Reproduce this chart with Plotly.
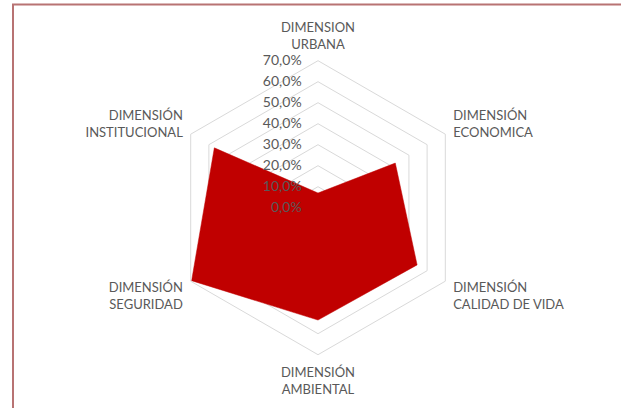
import plotly.graph_objects as go

categories = ["DIMENSION<br>URBANA", "DIMENSIÓN<br>ECONOMICA", "DIMENSIÓN<br>CALIDAD DE VIDA",
              "DIMENSIÓN<br>AMBIENTAL", "DIMENSIÓN<br>SEGURIDAD", "DIMENSIÓN<br>INSTITUCIONAL"]
values = [7.0, 42.5, 54.5, 53.5, 69.5, 57.0]
tick_vals = [0, 10, 20, 30, 40, 50, 60, 70]
tick_text = ["0,0%", "10,0%", "20,0%", "30,0%", "40,0%", "50,0%", "60,0%", "70,0%"]

W, H = 621, 408
cx, cy, R = 318, 207.7, 147

fig = go.Figure()
fig.add_trace(go.Scatterpolar(
    r=values + values[:1],
    theta=categories + categories[:1],
    mode="lines",
    fill="toself",
    fillcolor="#C00000",
    line=dict(color="#C00000", width=0.5),
    hoverinfo="skip",
    showlegend=False,
))

fig.update_layout(
    width=W, height=H,
    margin=dict(l=0, r=0, t=0, b=0),
    paper_bgcolor="white",
    font=dict(family="Lato", size=14, color="#595959"),
    polar=dict(
        domain=dict(x=[(cx - R) / W, (cx + R) / W], y=[1 - (cy + R) / H, 1 - (cy - R) / H]),
        bgcolor="white",
        gridshape="linear",
        radialaxis=dict(
            range=[0, 70], tickvals=tick_vals, ticktext=tick_text,
            angle=90, tickangle=90, side="counterclockwise",
            showline=False, ticks="outside", ticklen=11, tickcolor="rgba(0,0,0,0)",
            gridcolor="#D9D9D9", gridwidth=1,
            tickfont=dict(family="Lato", size=14, color="#595959"),
            layer="above traces",
        ),
        angularaxis=dict(
            rotation=90, direction="clockwise",
            showgrid=False, showline=True, linecolor="#D9D9D9",
            ticks="outside", ticklen=6, tickcolor="rgba(0,0,0,0)",
            tickfont=dict(family="Lato", size=13, color="#595959"),
        ),
    ),
    shapes=[dict(type="rect", xref="paper", yref="paper",
                 x0=13 / W, x1=1.05, y0=-0.05, y1=1 - 4.5 / H,
                 line=dict(color="#B87373", width=2), fillcolor="rgba(0,0,0,0)")],
)

fig.write_html("out.html", config={"displayModeBar": False},
               post_script="document.body.style.margin='0';")
